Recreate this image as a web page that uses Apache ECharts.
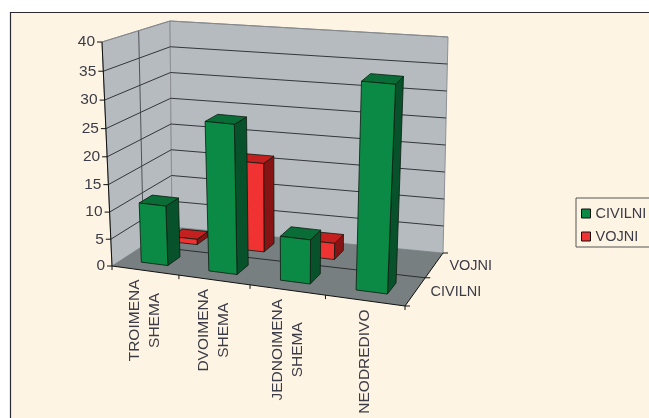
<!DOCTYPE html>
<html><head><meta charset="utf-8">
<style>html,body{margin:0;padding:0;background:#fff}#c{width:649px;height:418px}</style>
<script src="https://cdn.jsdelivr.net/npm/echarts@6/dist/echarts.min.js"></script>
</head><body><div id="c"></div>
<script>
const categories = ['TROIMENA\nSHEMA','DVOIMENA\nSHEMA','JEDNOIMENA\nSHEMA','NEODREDIVO'];
const civilni = [11, 27, 8, 36.5];
const vojni = [1, 16.5, 3, 0];
const depthLabels = ['CIVILNI','VOJNI'];
const yTicks = [0,5,10,15,20,25,30,35,40];

const FRONT = {left:112, top:42, width:293, height:224};
const floorQ = homography([112,266],[405,306],[443,253],[172,227]);
const roofQ  = homography([102,42],[417,72],[448,37],[170,21]);
const chart = echarts.init(document.getElementById('c'));
const FONT = 'Arial, "Liberation Sans", sans-serif';

function homography(p0,p1,p2,p3){
  const dx1=p1[0]-p2[0],dx2=p3[0]-p2[0],sx=p0[0]-p1[0]+p2[0]-p3[0];
  const dy1=p1[1]-p2[1],dy2=p3[1]-p2[1],sy=p0[1]-p1[1]+p2[1]-p3[1];
  const den=dx1*dy2-dx2*dy1;
  const g=(sx*dy2-dx2*sy)/den,h=(dx1*sy-sx*dy1)/den;
  const a=p1[0]-p0[0]+g*p1[0],b=p3[0]-p0[0]+h*p3[0];
  const d=p1[1]-p0[1]+g*p1[1],e=p3[1]-p0[1]+h*p3[1];
  return (u,w)=>{const q=g*u+h*w+1;return [(a*u+b*w+p0[0])/q,(d*u+e*w+p0[1])/q];};
}
// u,v: fractions across the flat (hidden) grid; w: depth fraction
function project(u,v,w){
  const s=u*(1-u);
  const f=floorQ(u+0.12*s,w),t=roofQ(u+0.22*s,w);
  const vv=v-0.05*v*(1-v)*(1-w);
  return [f[0]+(t[0]-f[0])*vv,f[1]+(t[1]-f[1])*vv];
}
function toUnit(px){return [(px[0]-FRONT.left)/FRONT.width,(FRONT.top+FRONT.height-px[1])/FRONT.height];}
function measure(t,font){const c=document.createElement('canvas').getContext('2d');c.font=font;return c.measureText(t).width;}

function poly(points,fill,stroke,lw){
  return {type:'polygon',shape:{points},style:{fill,stroke:stroke||null,lineWidth:lw||0}};
}
function line(points,stroke,lw){
  return {type:'polyline',shape:{points},style:{fill:null,stroke,lineWidth:lw||1}};
}

function barSeries(name,values,depthIdx,cols){
  return {
    type:'custom',name,coordinateSystem:'cartesian2d',z:5,silent:true,
    itemStyle:{color:cols.front},
    encode:{x:0,y:1},
    data:values.map((v,i)=>[i,v]),
    renderItem(params,api){
      const val=api.value(1);
      if(!val) return null;
      const i=api.value(0);
      const bw=api.size([1,0])[0]*0.4;
      const c0=api.coord([i,0]),c1=api.coord([i,val]);
      const [u0,v0]=toUnit([c0[0]-bw/2,c0[1]]);
      const [u1,v1]=toUnit([c0[0]+bw/2,c1[1]]);
      const wc=(depthIdx+0.5)/2,w0=wc-0.1,w1=wc+0.1;
      const S='#0c1a10';
      return {type:'group',children:[
        poly([project(u1,v0,w0),project(u1,v0,w1),project(u1,v1,w1),project(u1,v1,w0)],cols.side,S,0.8),
        poly([project(u0,v1,w0),project(u1,v1,w0),project(u1,v1,w1),project(u0,v1,w1)],cols.top,S,0.8),
        poly([project(u0,v0,w0),project(u1,v0,w0),project(u1,v1,w0),project(u0,v1,w0)],cols.front,S,0.8)
      ]};
    }
  };
}

const GREEN={front:'#0b8a45',side:'#07522a',top:'#0a6d37'};
const RED={front:'#f03232',side:'#861414',top:'#c52020'};

const option={
  animation:false,
  backgroundColor:'#ffffff',
  graphic:[
    {type:'rect',z:-10,shape:{x:10,y:12,width:639,height:406},style:{fill:'#fdf4e3'}},
    {type:'polyline',z:-9,shape:{points:[[10.5,418],[10.5,12.5],[649,12.5]]},style:{fill:null,stroke:'#2a2a30',lineWidth:1.2}}
  ],
  grid:{left:FRONT.left,top:FRONT.top,width:FRONT.width,height:FRONT.height,show:false},
  xAxis:{type:'category',data:categories,show:false},
  yAxis:{type:'value',min:0,max:40,interval:5,show:false},
  legend:{
    orient:'vertical',left:576,top:198,padding:[8,12,3,5],
    data:['CIVILNI','VOJNI'],
    icon:'rect',itemWidth:9,itemHeight:9,itemGap:8,
    backgroundColor:'#fdf4e3',borderColor:'#555',borderWidth:1,
    itemStyle:{borderColor:'#111',borderWidth:1},
    textStyle:{fontFamily:FONT,fontSize:14.5,color:'#3c3c48'}
  },
  series:[
    { // walls and floor
      type:'custom',z:1,silent:true,coordinateSystem:'cartesian2d',data:[[0,0]],
      renderItem(){
        const W='#b6bbc0';
        return {type:'group',children:[
          poly([project(0,0,0),project(0,1,0),project(0,1,1),project(0,0,1)],W,'#8d9196',1),
          poly([project(0,0,1),project(0,1,1),project(1,1,1),project(1,0,1)],W,'#8d9196',1),
          poly([project(0,0,0),project(1,0,0),project(1,0,1),project(0,0,1)],'#787f80',null,0),
          line([project(0,0,.5),project(0,1,.5)],'#50545a',1),
          line([project(0,0,.5),project(1,0,.5)],'#2c2e30',1)
        ]};
      }
    },
    { // value gridlines and labels, from the hidden value axis
      type:'custom',z:2,silent:true,coordinateSystem:'cartesian2d',
      data:yTicks.map(t=>[0,t]),
      renderItem(params,api){
        const t=api.value(1);
        const v=toUnit(api.coord([0,t]))[1];
        const a=project(0,v,0),b=project(0,v,1),c=project(1,v,1);
        const kids=[];
        if(t>0) kids.push(line([a,b,c],t===40?'#85898e':'#33363a',1));
        kids.push(line([[a[0]-5,a[1]],a],'#111',1));
        kids.push({type:'text',style:{text:String(t),x:a[0]-7,y:a[1],align:'right',verticalAlign:'middle',font:'15.5px '+FONT,fill:'#3c3c48'}});
        return {type:'group',children:kids};
      }
    },
    barSeries('VOJNI',vojni,1,RED),
    barSeries('CIVILNI',civilni,0,GREEN),
    { // front axes, category and depth labels
      type:'custom',z:6,silent:true,coordinateSystem:'cartesian2d',
      data:categories.map((c,i)=>[i,0]),
      renderItem(params,api){
        const i=api.value(0);
        const bw=api.size([1,0])[0];
        const cx=api.coord([i,0])[0];
        const uC=toUnit([cx,0])[0],uR=toUnit([cx+bw/2,0])[0];
        const kids=[];
        const p=project(uR,0,0);
        kids.push(line([p,[p[0],p[1]+4]],'#111',1));
        const q=project(uC,0,0);
        const font='15.5px '+FONT;
        const lines=categories[i].split('\n');
        const tw=Math.max(...lines.map(l=>measure(l,font)));
        kids.push({type:'text',x:q[0],y:q[1]+9+tw/2,rotation:Math.PI/2,
          style:{text:categories[i],align:'center',verticalAlign:'middle',font,lineHeight:20,fill:'#3c3c48'}});
        if(i===0){
          kids.push(line([project(0,0,0),project(0,1,0)],'#111',1));
          kids.push(line([project(0,0,0),project(1,0,0),project(1,0,1)],'#111',1));
          const o=project(0,0,0);
          kids.push(line([o,[o[0],o[1]+4]],'#111',1));
          [0,.5,1].forEach(w=>{const e=project(1,0,w);kids.push(line([e,[e[0]+5,e[1]]],'#111',1));});
          depthLabels.forEach((d,k)=>{
            const e=project(1,0,(k+.5)/2);
            kids.push({type:'text',style:{text:d,x:e[0]+15,y:e[1]+1,align:'left',verticalAlign:'middle',font:'14.5px '+FONT,fill:'#3c3c48'}});
          });
        }
        return {type:'group',children:kids};
      }
    }
  ]
};
chart.setOption(option);
</script></body></html>
